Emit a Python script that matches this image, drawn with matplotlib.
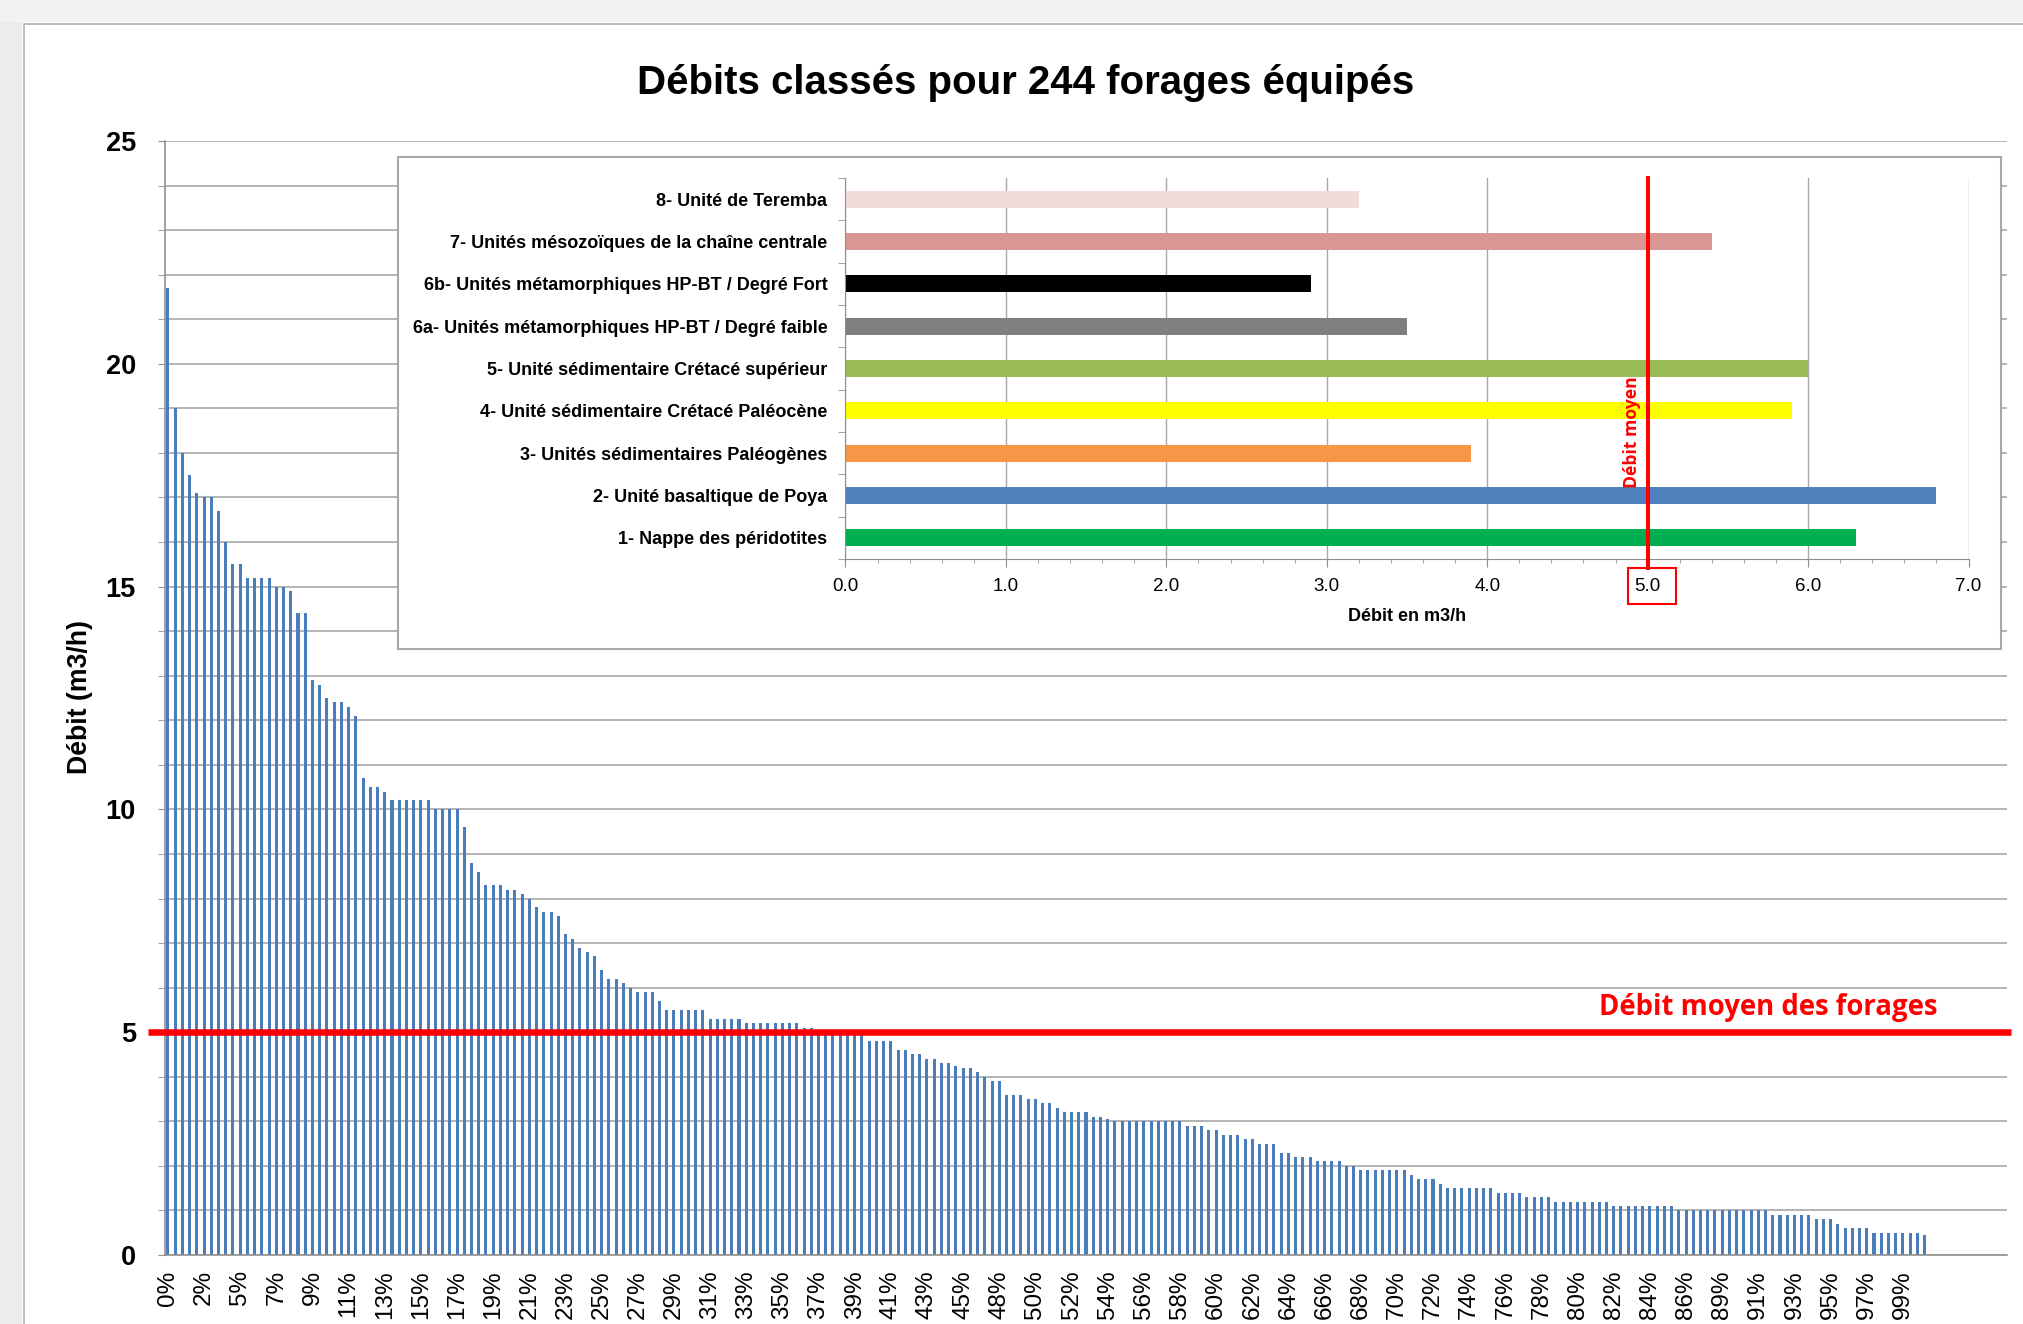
import matplotlib
matplotlib.use('Agg')
import matplotlib.pyplot as plt
import matplotlib.font_manager as fm
import matplotlib.transforms as mtransforms
from matplotlib.patches import Rectangle
import numpy as np

# ---------------- data ----------------
debits = [
    21.7, 19.0, 18.0, 17.5, 17.1, 17.0, 17.0, 16.7, 16.0, 15.5,
    15.5, 15.2, 15.2, 15.2, 15.2, 15.0, 15.0, 14.9, 14.4, 14.4,
    12.9, 12.8, 12.5, 12.4, 12.4, 12.3, 12.1, 10.7, 10.5, 10.5,
    10.4, 10.2, 10.2, 10.2, 10.2, 10.2, 10.2, 10.0, 10.0, 10.0,
    10.0, 9.6, 8.8, 8.6, 8.3, 8.3, 8.3, 8.2, 8.2, 8.1,
    8.0, 7.8, 7.7, 7.7, 7.6, 7.2, 7.1, 6.9, 6.8, 6.7,
    6.4, 6.2, 6.2, 6.1, 6.0, 5.9, 5.9, 5.9, 5.7, 5.5,
    5.5, 5.5, 5.5, 5.5, 5.5, 5.3, 5.3, 5.3, 5.3, 5.3,
    5.2, 5.2, 5.2, 5.2, 5.2, 5.2, 5.2, 5.2, 5.1, 5.1,
    5.0, 5.0, 5.0, 5.0, 5.0, 5.0, 5.0, 4.8, 4.8, 4.8,
    4.8, 4.6, 4.6, 4.5, 4.5, 4.4, 4.4, 4.3, 4.3, 4.25,
    4.2, 4.2, 4.1, 4.0, 3.9, 3.9, 3.6, 3.6, 3.6, 3.5,
    3.5, 3.4, 3.4, 3.3, 3.2, 3.2, 3.2, 3.2, 3.1, 3.1,
    3.05, 3.0, 3.0, 3.0, 3.0, 3.0, 3.0, 3.0, 3.0, 3.0,
    3.0, 2.9, 2.9, 2.9, 2.8, 2.8, 2.7, 2.7, 2.7, 2.6,
    2.6, 2.5, 2.5, 2.5, 2.3, 2.3, 2.2, 2.2, 2.2, 2.1,
    2.1, 2.1, 2.1, 2.0, 2.0, 1.9, 1.9, 1.9, 1.9, 1.9,
    1.9, 1.9, 1.8, 1.7, 1.7, 1.7, 1.6, 1.5, 1.5, 1.5,
    1.5, 1.5, 1.5, 1.5, 1.4, 1.4, 1.4, 1.4, 1.3, 1.3,
    1.3, 1.3, 1.2, 1.2, 1.2, 1.2, 1.2, 1.2, 1.2, 1.2,
    1.1, 1.1, 1.1, 1.1, 1.1, 1.1, 1.1, 1.1, 1.1, 1.0,
    1.0, 1.0, 1.0, 1.0, 1.0, 1.0, 1.0, 1.0, 1.0, 1.0,
    1.0, 1.0, 0.9, 0.9, 0.9, 0.9, 0.9, 0.9, 0.8, 0.8,
    0.8, 0.7, 0.6, 0.6, 0.6, 0.6, 0.5, 0.5, 0.5, 0.5,
    0.5, 0.5, 0.5, 0.45,
]

pct_labels = [
    "0%", "2%", "5%", "7%", "9%", "11%", "13%", "15%", "17%", "19%",
    "21%", "23%", "25%", "27%", "29%", "31%", "33%", "35%", "37%", "39%",
    "41%", "43%", "45%", "48%", "50%", "52%", "54%", "56%", "58%", "60%",
    "62%", "64%", "66%", "68%", "70%", "72%", "74%", "76%", "78%", "80%",
    "82%", "84%", "86%", "89%", "91%", "93%", "95%", "97%", "99%",
]

debit_moyen = 5.0

unites = [
    "1- Nappe des péridotites",
    "2- Unité basaltique de Poya",
    "3- Unités sédimentaires Paléogènes",
    "4- Unité sédimentaire Crétacé Paléocène",
    "5- Unité sédimentaire Crétacé supérieur",
    "6a- Unités métamorphiques HP-BT / Degré faible",
    "6b- Unités métamorphiques HP-BT / Degré Fort",
    "7- Unités mésozoïques de la chaîne centrale",
    "8- Unité de Teremba",
]
debits_unites = [6.3, 6.8, 3.9, 5.9, 6.0, 3.5, 2.9, 5.4, 3.2]
couleurs_unites = ['#00B050', '#4F81BD', '#F79646', '#FFFF00', '#9BBB59',
                   '#7F7F7F', '#000000', '#D99694', '#F2DCDB']
inset_xticks = [0, 1, 2, 3, 4, 5, 6, 7]
inset_xticklabels = ["0.0", "1.0", "2.0", "3.0", "4.0", "5.0", "6.0", "7.0"]

# ---------------- fonts ----------------
names = {f.name for f in fm.fontManager.ttflist}
if 'Liberation Sans Narrow' in names:
    NARROW = 'Liberation Sans Narrow'
    k = 1.19
else:
    NARROW = 'Liberation Sans'
    k = 1.0
plt.rcParams['font.family'] = [NARROW, 'DejaVu Sans']

W, H = 2024, 1324
fig = plt.figure(figsize=(W / 100, H / 100), dpi=100)
fig.patch.set_facecolor('white')

# background decorations (screenshot frame)
fig.add_artist(Rectangle((0, 0), 22 / W, 1, transform=fig.transFigure,
                         facecolor='#ececec', edgecolor='none', zorder=-5))
fig.add_artist(Rectangle((0, 1 - 22 / H), 1, 22 / H, transform=fig.transFigure,
                         facecolor='#f2f2f2', edgecolor='none', zorder=-5))
fig.add_artist(Rectangle((24 / W, -0.01), 1.0, 1 - 24 / H + 0.01, transform=fig.transFigure,
                         facecolor='white', edgecolor='#b0b0b0', lw=1.2, zorder=-4))

# ---------------- main chart ----------------
ax = fig.add_axes([165 / W, 1 - 1255 / H, (2007 - 165) / W, (1255 - 141) / H])
x = np.arange(len(debits))
ax.bar(x, debits, width=0.42, color='#4A7EBB', zorder=2)
ax.set_xlim(-0.4, 254.4)
ax.set_ylim(0, 25)
ax.set_yticks([0, 5, 10, 15, 20, 25])
ax.set_yticks(np.arange(0, 26, 1), minor=True)
ax.grid(axis='y', which='both', color='#a0a0a0', lw=1.1, zorder=0)
ax.set_axisbelow(True)
for s in ['top', 'right']:
    ax.spines[s].set_visible(False)
ax.spines['left'].set_color('#909090')
ax.spines['bottom'].set_color('#909090')
ax.spines['left'].set_linewidth(1.2)
ax.spines['bottom'].set_linewidth(1.2)
ax.tick_params(axis='y', which='both', length=5, color='#909090', direction='out')
ax.tick_params(axis='y', which='major', pad=16, labelsize=19.5 * k)
for t in ax.get_yticklabels():
    t.set_fontweight('bold')
ax.set_xticks(x[::5])
ax.set_xticklabels(pct_labels, rotation=90, fontsize=17.5, family='Liberation Sans')
ax.tick_params(axis='x', length=0, pad=11)

ax.plot([-2.7, 255.0], [debit_moyen, debit_moyen], color='#FF0000', lw=4.7,
        clip_on=False, zorder=4, solid_capstyle='butt')
ax.text(221.4, 5.56, 'Débit moyen des forages', color='#FF0000', fontsize=19.8,
        fontweight='bold', family=['Open Sans', 'DejaVu Sans'], ha='center', va='center')

fig.text(80 / W, 1 - 697 / H, 'Débit (m3/h)', rotation=90, ha='center', va='center',
         fontsize=19.2 * k, fontweight='bold')
fig.text(1026 / W, 1 - 83 / H, 'Débits classés pour 244 forages équipés', ha='center',
         va='center', fontsize=29 * k, fontweight='bold')

# ---------------- inset ----------------
fig.add_artist(Rectangle((397.6 / W, 1 - 649 / H), (2001 - 397.6) / W, (649 - 157.5) / H,
                         transform=fig.transFigure, facecolor='white',
                         edgecolor='#a8a8a8', lw=1.5, zorder=1))
axi = fig.add_axes([845.5 / W, 1 - 559 / H, 1123 / W, 381 / H], zorder=2)
axi.set_facecolor('none')
yi = np.arange(len(unites))
axi.barh(yi, debits_unites, height=0.4, color=couleurs_unites, zorder=2)
axi.set_xlim(0, 7)
axi.set_ylim(-0.5, 8.5)
axi.set_xticks(inset_xticks)
axi.set_xticklabels(inset_xticklabels, fontsize=13.5 * k)
axi.set_xticks(np.arange(0, 7.01, 0.2), minor=True)
axi.set_yticks(yi)
axi.set_yticklabels(unites, fontsize=13 * k, fontweight='bold')
axi.set_yticks(np.arange(-0.5, 8.6, 1), minor=True)
axi.tick_params(axis='y', which='major', length=0, pad=13)
axi.tick_params(axis='y', which='minor', length=5, color='#909090')
axi.tick_params(axis='x', which='major', length=6, color='#909090', pad=8)
axi.tick_params(axis='x', which='minor', length=3, color='#909090')
axi.grid(axis='x', which='major', color='#a8a8a8', lw=1.0, zorder=0)
axi.set_axisbelow(True)
for s in ['top', 'right']:
    axi.spines[s].set_visible(False)
axi.spines['left'].set_color('#909090')
axi.spines['bottom'].set_color('#909090')
axi.text(0.5, -0.15, 'Débit en m3/h', transform=axi.transAxes, ha='center', va='center',
         fontsize=13 * k, fontweight='bold')

bt = mtransforms.blended_transform_factory(axi.transData, axi.transAxes)
axi.plot([debit_moyen, debit_moyen], [-0.024, 1.0], transform=bt, color='#FF0000', lw=2.9,
         clip_on=False, zorder=4)
axi.text(debit_moyen - 0.04, 2.49, 'Débit moyen', rotation=90, ha='right', va='center',
         color='#FF0000', fontsize=12.6, fontweight='bold', family=['Open Sans', 'DejaVu Sans'])
axi.add_patch(Rectangle((4.878, -0.118), 0.3, 0.094, transform=bt, fill=False,
                        edgecolor='#FF0000', lw=1.5, clip_on=False, zorder=4))

fig.savefig('out.png', dpi=100, facecolor=fig.get_facecolor())
